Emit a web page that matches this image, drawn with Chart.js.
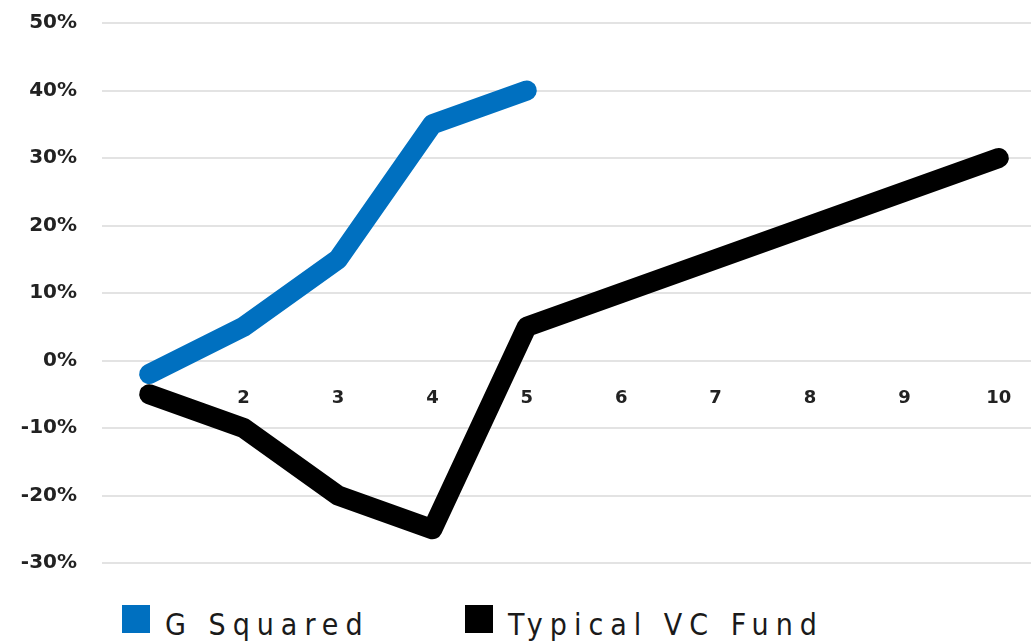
<!DOCTYPE html>
<html>
<head>
<meta charset="utf-8">
<script src="https://cdn.jsdelivr.net/npm/chart.js@4.4.1/dist/chart.umd.min.js"></script>
<style>
html,body{margin:0;padding:0;background:#fff;overflow:hidden;width:1031px;height:642px;}
#wrap{position:absolute;left:0;top:0;width:1046px;height:584px;}
#legend{position:absolute;top:605px;left:0;height:40px;font-family:"Liberation Sans Narrow","DejaVu Sans Condensed",sans-serif;font-size:30px;color:#1a1a1a;letter-spacing:7px;}
.item{position:absolute;top:0;white-space:nowrap;}
.sw{position:absolute;top:0px;width:28px;height:28px;}
.lt{position:absolute;top:0;left:43px;line-height:40px;}
</style>
</head>
<body>
<div id="wrap"><canvas id="c"></canvas></div>
<div id="legend"></div>
<script>
const categories = ['1','2','3','4','5','6','7','8','9','10'];
const seriesNames = ['G Squared', 'Typical VC Fund'];
const gSquared = [-2, 5, 15, 35, 40, null, null, null, null, null];
const typicalVC = [-5, -10, -20, -25, 5, 10, 15, 20, 25, 30];
const yTicks = [-30, -20, -10, 0, 10, 20, 30, 40, 50];
const colors = ['#0070C0', '#000000'];

const ctx = document.getElementById('c');
const chart = new Chart(ctx, {
  type: 'line',
  data: {
    labels: categories,
    datasets: [
      {label: seriesNames[0], data: gSquared, borderColor: colors[0], backgroundColor: colors[0], borderWidth: 20, pointRadius: 0, borderCapStyle: 'round', borderJoinStyle: 'round', tension: 0, spanGaps: false},
      {label: seriesNames[1], data: typicalVC, borderColor: colors[1], backgroundColor: colors[1], borderWidth: 20, pointRadius: 0, borderCapStyle: 'round', borderJoinStyle: 'round', tension: 0}
    ]
  },
  options: {
    responsive: true,
    maintainAspectRatio: false,
    animation: false,
    layout: {padding: {top: 23, bottom: 21, left: 0, right: 0}},
    plugins: {legend: {display: false}, tooltip: {enabled: false}},
    scales: {
      x: {
        position: {y: 0},
        offset: true,
        grid: {display: false, drawTicks: false},
        border: {display: false},
        ticks: {padding: 27, color: '#222', font: {family: 'DejaVu Sans', weight: 'bold', size: 18}, maxRotation: 0, autoSkip: false}
      },
      y: {
        min: -30, max: 50,
        afterBuildTicks: (s) => { s.ticks = yTicks.map(v => ({value: v})); },
        afterFit: (s) => { s.width = 102; },
        grid: {color: '#e3e3e3', lineWidth: 2, drawTicks: true, tickLength: 25, tickColor: 'rgba(0,0,0,0)'},
        border: {display: false},
        ticks: {padding: 0, color: '#222', font: {family: 'DejaVu Sans', weight: 'bold', size: 20}, callback: v => v + '%'}
      }
    }
  }
});

const leg = document.getElementById('legend');
const legendX = [122, 465];
seriesNames.forEach((n, i) => {
  const it = document.createElement('div');
  it.className = 'item';
  it.style.left = legendX[i] + 'px';
  const sw = document.createElement('div');
  sw.className = 'sw';
  sw.style.background = colors[i];
  const t = document.createElement('span');
  t.className = 'lt';
  t.textContent = n;
  it.appendChild(sw); it.appendChild(t);
  leg.appendChild(it);
});
</script>
</body>
</html>
